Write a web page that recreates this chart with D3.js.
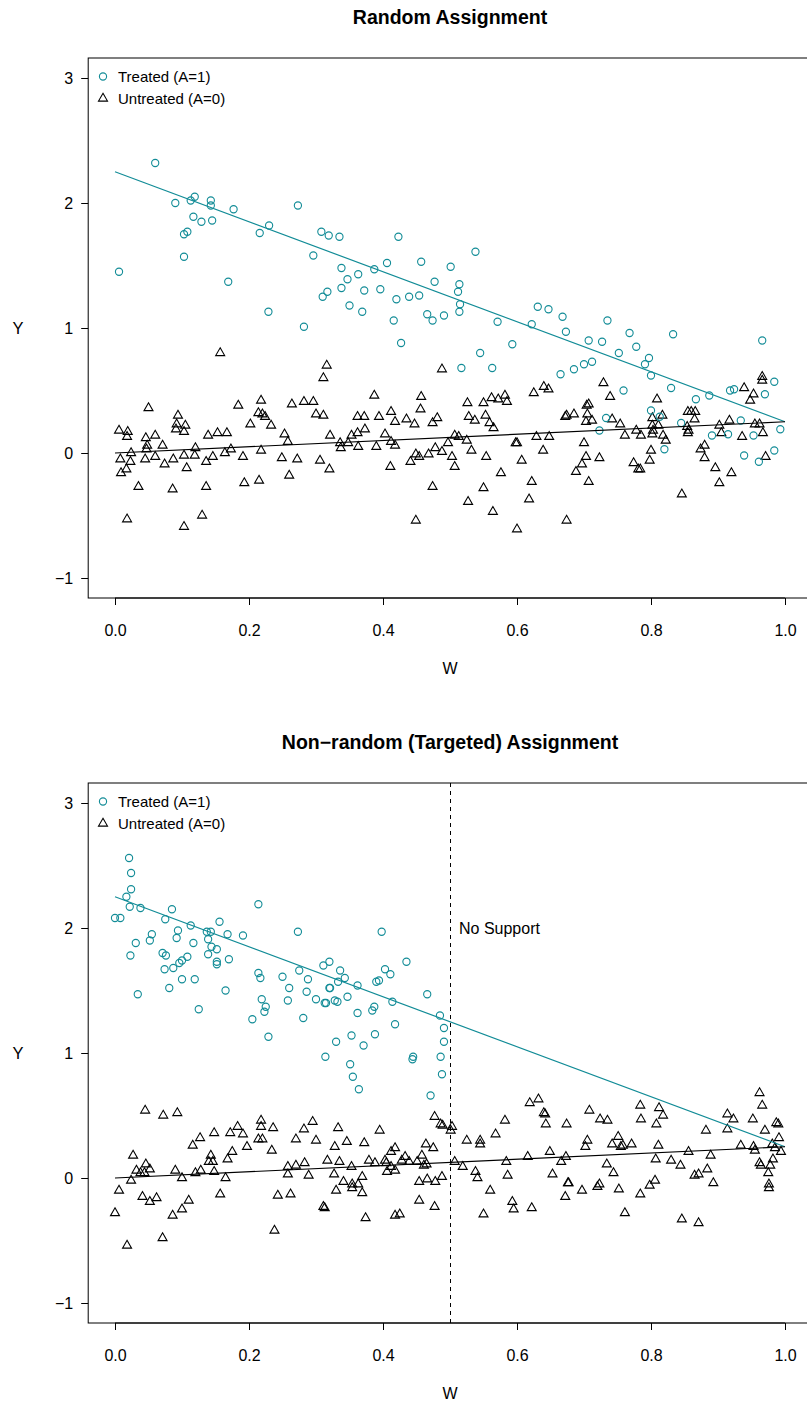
<!DOCTYPE html>
<html><head><meta charset="utf-8">
<script src="https://cdn.jsdelivr.net/npm/d3@7"></script>
<style>body{margin:0;background:#fff}svg{display:block;font-family:"Liberation Sans",Arial,sans-serif}</style>
</head><body><svg id="c" width="807" height="1403"></svg>
<script>
const xTicks=[0,0.2,0.4,0.6,0.8,1.0];
const yTicks=[-1,0,1,2,3];
const titles=["Random Assignment","Non\u2212random (Targeted) Assignment"];
const legendLabels=["Treated (A=1)","Untreated (A=0)"];
const treatedLine=[[0,2.25],[1,0.25]];
const untreatedLine=[[0,0],[1,0.25]];
const supportCut=0.5;

const randTreated=[[0.06,2.32],[0.09,2.00],[0.113,2.02],[0.119,2.05],[0.143,2.02],[0.143,1.98],[0.177,1.95],[0.117,1.89],[0.129,1.85],[0.145,1.86],[0.103,1.75],[0.108,1.77],[0.103,1.57],[0.006,1.45],[0.169,1.37],[0.216,1.76],[0.23,1.82],[0.273,1.98],[0.308,1.77],[0.319,1.74],[0.296,1.58],[0.317,1.29],[0.31,1.25],[0.229,1.13],[0.282,1.01],
[0.335,1.73],[0.423,1.73],[0.538,1.61],[0.338,1.48],[0.347,1.39],[0.363,1.43],[0.387,1.47],[0.406,1.52],[0.457,1.53],[0.501,1.49],[0.338,1.32],[0.372,1.30],[0.396,1.31],[0.42,1.23],[0.439,1.25],[0.454,1.26],[0.477,1.37],[0.514,1.35],[0.512,1.29],[0.515,1.19],[0.514,1.13],[0.35,1.18],[0.369,1.13],[0.416,1.06],[0.427,0.88],[0.466,1.11],[0.474,1.06],[0.491,1.10],[0.571,1.05],[0.631,1.17],[0.647,1.15],[0.668,1.09],[0.622,1.03],[0.673,0.97],[0.593,0.87],[0.545,0.80],[0.517,0.68],[0.563,0.68],[0.665,0.63],
[0.735,1.06],[0.707,0.90],[0.727,0.89],[0.768,0.96],[0.833,0.95],[0.778,0.85],[0.752,0.80],[0.797,0.76],[0.791,0.71],[0.80,0.62],[0.685,0.67],[0.70,0.71],[0.712,0.73],[0.966,0.90],[0.984,0.57],
[0.759,0.50],[0.83,0.52],[0.867,0.43],[0.887,0.46],[0.918,0.50],[0.924,0.51],[0.970,0.47],[0.80,0.34],[0.733,0.28],[0.723,0.18],[0.813,0.29],[0.845,0.24],[0.82,0.03],[0.891,0.14],[0.915,0.15],[0.934,0.26],[0.953,0.14],[0.993,0.19],[0.939,-0.02],[0.961,-0.07],[0.984,0.02]];

const randUntreated=[[0.311,0.60],[0.05,0.36],[0.094,0.30],[0.092,0.23],[0.105,0.22],[0.091,0.19],[0.103,0.17],[0.006,0.18],[0.019,0.17],[0.018,0.13],[0.046,0.12],[0.06,0.14],[0.048,0.06],[0.047,0.03],[0.071,0.06],[0.024,0.00],[0.008,-0.05],[0.023,-0.07],[0.017,-0.13],[0.009,-0.16],[0.045,-0.05],[0.06,-0.03],[0.074,-0.09],[0.087,-0.05],[0.103,-0.02],[0.107,-0.12],[0.12,0.04],[0.119,-0.02],[0.139,0.14],[0.153,0.16],[0.167,0.16],[0.146,-0.03],[0.136,-0.07],[0.164,0.00],[0.173,0.03],[0.184,0.38],[0.191,-0.03],[0.202,0.23],[0.218,0.42],[0.214,0.32],[0.22,0.31],[0.224,0.29],[0.233,0.22],[0.218,0.02],[0.253,0.15],[0.258,0.09],[0.249,-0.04],[0.272,-0.05],[0.26,-0.18],[0.193,-0.24],[0.215,-0.22],[0.264,0.39],[0.282,0.41],[0.296,0.41],[0.30,0.31],[0.311,0.30],[0.306,-0.06],[0.32,-0.13],[0.321,0.14],[0.035,-0.27],[0.086,-0.29],[0.136,-0.27],[0.018,-0.53],[0.103,-0.59],[0.13,-0.50],[0.157,0.80],[0.316,0.70],
[0.387,0.46],[0.457,0.45],[0.456,0.35],[0.412,0.33],[0.362,0.29],[0.372,0.29],[0.394,0.29],[0.418,0.25],[0.435,0.27],[0.447,0.23],[0.481,0.28],[0.474,0.24],[0.373,0.19],[0.362,0.16],[0.353,0.14],[0.403,0.15],[0.336,0.08],[0.337,0.04],[0.348,0.08],[0.363,0.05],[0.39,0.05],[0.412,0.09],[0.418,0.06],[0.411,-0.11],[0.449,-0.01],[0.454,-0.03],[0.441,-0.07],[0.468,-0.01],[0.478,0.04],[0.488,0.01],[0.497,0.08],[0.507,0.14],[0.513,0.13],[0.525,0.10],[0.532,0.02],[0.503,-0.03],[0.507,-0.11],[0.554,-0.03],[0.576,-0.16],[0.607,-0.06],[0.598,0.08],[0.60,0.08],[0.629,0.13],[0.648,0.13],[0.639,0.02],[0.672,0.29],[0.526,0.40],[0.55,0.40],[0.562,0.44],[0.572,0.43],[0.582,0.46],[0.585,0.41],[0.625,0.48],[0.64,0.53],[0.647,0.51],[0.528,0.29],[0.537,0.26],[0.553,0.30],[0.559,0.24],[0.565,0.20],[0.474,-0.27],[0.55,-0.28],[0.622,-0.23],[0.618,-0.37],[0.527,-0.39],[0.564,-0.47],[0.449,-0.54],[0.60,-0.61],[0.674,-0.54],[0.488,0.67],
[0.729,0.56],[0.739,0.45],[0.704,0.38],[0.707,0.39],[0.705,0.31],[0.685,0.31],[0.674,0.30],[0.703,0.25],[0.712,0.26],[0.742,0.27],[0.754,0.23],[0.761,0.14],[0.778,0.18],[0.785,0.14],[0.809,0.43],[0.802,0.28],[0.817,0.30],[0.802,0.22],[0.811,0.22],[0.803,0.18],[0.802,0.15],[0.818,0.14],[0.822,0.10],[0.80,0.02],[0.798,-0.06],[0.70,0.08],[0.703,-0.03],[0.697,-0.09],[0.688,-0.15],[0.723,-0.04],[0.707,-0.23],[0.774,-0.08],[0.781,-0.13],[0.784,-0.13],[0.846,-0.33],[0.855,0.33],[0.86,0.33],[0.866,0.33],[0.865,0.27],[0.854,0.21],[0.856,0.18],[0.855,0.16],[0.874,0.03],[0.88,0.06],[0.88,-0.04],[0.896,-0.12],[0.902,-0.24],[0.92,-0.16],[0.902,0.22],[0.905,0.16],[0.917,0.26],[0.936,0.13],[0.955,0.23],[0.962,0.23],[0.967,0.16],[0.971,-0.03],[0.939,0.52],[0.953,0.47],[0.948,0.42],[0.966,0.61],[0.966,0.58]];

const targTreated=[[0.021,2.56],[0.024,2.44],[0.024,2.31],[0.017,2.25],[0.022,2.17],[0.038,2.16],[0.0,2.08],[0.008,2.08],[0.085,2.15],[0.075,2.07],[0.214,2.19],[0.113,2.02],[0.156,2.05],[0.137,1.97],[0.143,1.97],[0.168,1.95],[0.191,1.94],[0.139,1.91],[0.094,1.98],[0.092,1.92],[0.055,1.95],[0.052,1.90],[0.031,1.88],[0.117,1.88],[0.144,1.85],[0.152,1.83],[0.139,1.79],[0.071,1.80],[0.076,1.78],[0.023,1.78],[0.108,1.77],[0.10,1.74],[0.096,1.72],[0.087,1.68],[0.074,1.67],[0.152,1.73],[0.152,1.71],[0.17,1.75],[0.10,1.59],[0.119,1.59],[0.081,1.52],[0.034,1.47],[0.165,1.50],[0.125,1.35],[0.273,1.97],[0.214,1.64],[0.217,1.60],[0.25,1.61],[0.275,1.66],[0.288,1.59],[0.26,1.52],[0.286,1.49],[0.258,1.42],[0.30,1.43],[0.313,1.40],[0.311,1.70],[0.32,1.73],[0.32,1.52],[0.219,1.43],[0.225,1.37],[0.223,1.33],[0.205,1.27],[0.281,1.28],[0.229,1.13],[0.314,0.97],
[0.336,1.66],[0.343,1.60],[0.333,1.57],[0.321,1.52],[0.362,1.54],[0.328,1.42],[0.332,1.41],[0.347,1.45],[0.315,1.40],[0.362,1.32],[0.398,1.97],[0.435,1.73],[0.403,1.67],[0.411,1.63],[0.39,1.57],[0.394,1.58],[0.414,1.41],[0.387,1.37],[0.384,1.34],[0.466,1.47],[0.485,1.30],[0.491,1.20],[0.491,1.09],[0.418,1.23],[0.388,1.15],[0.353,1.14],[0.33,1.09],[0.371,1.06],[0.445,0.97],[0.444,0.95],[0.486,0.97],[0.351,0.91],[0.355,0.81],[0.364,0.71],[0.488,0.83],[0.471,0.66]];

const targUntreated=[[0.045,0.54],[0.072,0.50],[0.093,0.52],[0.027,0.18],[0.032,0.06],[0.046,0.11],[0.052,0.07],[0.038,0.04],[0.044,0.04],[0.024,-0.02],[0.006,-0.10],[0.0,-0.28],[0.018,-0.54],[0.041,-0.15],[0.052,-0.19],[0.062,-0.16],[0.071,-0.48],[0.086,-0.30],[0.10,-0.25],[0.11,-0.18],[0.09,0.06],[0.10,0.00],[0.12,0.04],[0.128,0.06],[0.116,0.26],[0.127,0.32],[0.148,0.36],[0.143,0.18],[0.14,0.13],[0.146,0.13],[0.148,0.05],[0.168,0.15],[0.175,0.21],[0.165,0.00],[0.157,-0.13],[0.172,0.36],[0.183,0.41],[0.191,0.35],[0.197,0.25],[0.218,0.46],[0.218,0.41],[0.236,0.40],[0.214,0.31],[0.22,0.31],[0.234,0.22],[0.243,-0.14],[0.262,-0.13],[0.238,-0.42],[0.258,0.09],[0.258,0.03],[0.27,0.10],[0.283,0.12],[0.289,0.02],[0.27,0.31],[0.282,0.39],[0.295,0.45],[0.30,0.30],[0.317,0.14],[0.311,-0.23],
[0.333,0.40],[0.395,0.38],[0.328,0.25],[0.346,0.29],[0.372,0.28],[0.335,0.13],[0.353,0.09],[0.379,0.14],[0.388,0.12],[0.327,0.03],[0.341,-0.03],[0.354,-0.05],[0.354,-0.08],[0.363,-0.05],[0.369,0.01],[0.33,-0.10],[0.369,-0.12],[0.374,-0.32],[0.313,-0.24],[0.403,0.14],[0.405,0.12],[0.412,0.21],[0.418,0.24],[0.412,0.09],[0.406,0.05],[0.418,0.06],[0.428,0.14],[0.433,0.17],[0.439,0.13],[0.451,0.13],[0.458,0.18],[0.461,0.10],[0.465,0.11],[0.464,0.27],[0.475,0.24],[0.454,-0.03],[0.466,-0.01],[0.478,-0.03],[0.488,0.01],[0.454,-0.18],[0.477,-0.23],[0.418,-0.30],[0.425,-0.29],[0.477,0.49],[0.486,0.43],[0.489,0.42],[0.503,0.41],[0.501,0.38],[0.507,0.13],[0.519,0.09],[0.525,0.30],[0.545,0.30],[0.545,0.27],[0.538,0.05],[0.541,0.00],[0.56,-0.10],[0.55,-0.29],[0.568,0.35],[0.582,0.46],[0.584,0.13],[0.586,0.02],[0.593,-0.19],[0.595,-0.25],[0.622,-0.24],[0.616,0.17],[0.619,0.60],[0.632,0.63],[0.64,0.52],[0.642,0.51],[0.643,0.43],[0.649,0.21],[0.653,0.03],[0.666,0.13],[0.673,0.17],[0.674,0.43],[0.672,-0.15],[0.676,-0.04],
[0.708,0.54],[0.724,0.47],[0.735,0.46],[0.784,0.58],[0.785,0.47],[0.812,0.56],[0.818,0.50],[0.808,0.43],[0.705,0.30],[0.702,0.25],[0.751,0.33],[0.742,0.27],[0.755,0.25],[0.758,0.26],[0.771,0.27],[0.811,0.26],[0.734,0.11],[0.744,0.04],[0.807,0.15],[0.83,0.14],[0.844,0.10],[0.856,0.21],[0.889,0.18],[0.884,0.07],[0.865,0.02],[0.871,0.03],[0.893,-0.04],[0.882,0.38],[0.914,0.51],[0.923,0.47],[0.914,0.39],[0.934,0.26],[0.952,0.47],[0.962,0.68],[0.966,0.58],[0.97,0.38],[0.987,0.44],[0.99,0.43],[0.991,0.32],[0.981,0.27],[0.985,0.24],[0.994,0.21],[0.953,0.25],[0.955,0.22],[0.982,0.15],[0.978,0.10],[0.962,0.12],[0.964,0.10],[0.975,0.04],[0.976,-0.05],[0.976,-0.08],[0.677,-0.04],[0.697,-0.10],[0.72,-0.07],[0.723,-0.05],[0.752,-0.09],[0.784,-0.13],[0.798,-0.06],[0.806,-0.02],[0.761,-0.28],[0.846,-0.33],[0.871,-0.36]];

const TEAL="#128c97";
const svg=d3.select("#c");
const x=d3.scaleLinear().domain([-0.04,1.04]).range([88.2,811.8]);
const triPath=(r)=>`M0,${-r}L${r*0.866},${r*0.5}L${-r*0.866},${r*0.5}Z`;
const CR=3.6, TR=5.2;

function panel(top,title,treated,untreated,showCut){
  const g=svg.append("g");
  const y=d3.scaleLinear().domain([-1.16,3.16]).range([top+540,top]);
  g.append("text").attr("x",450).attr("y",top-34).attr("text-anchor","middle")
    .attr("font-weight","bold").attr("font-size",19.5).text(title);
  g.append("rect").attr("x",x.range()[0]).attr("y",top).attr("width",x.range()[1]-x.range()[0])
    .attr("height",540).attr("fill","none").attr("stroke","#000").attr("stroke-width",1);
  const xa=g.append("g").attr("transform",`translate(0,${top+540})`)
    .call(d3.axisBottom(x).tickValues(xTicks).tickFormat(d3.format(".1f")).tickSize(7).tickPadding(20));
  const ya=g.append("g").attr("transform",`translate(${x.range()[0]},0)`)
    .call(d3.axisLeft(y).tickValues(yTicks).tickFormat(d=>d<0?"\u2212"+Math.abs(d):d).tickSize(7).tickPadding(8));
  [xa,ya].forEach(a=>{a.select(".domain").remove();a.selectAll("text").attr("font-size",16).attr("font-family","Liberation Sans, Arial, sans-serif").attr("fill","#000");a.selectAll("line").attr("stroke","#000");});
  ya.selectAll("text").attr("dy","0.35em");
  g.append("path").attr("d",`M${x(0)},${top+540}H${x(1)}`).attr("stroke","#000");
  g.append("text").attr("x",450).attr("y",top+616).attr("text-anchor","middle").attr("font-size",16).text("W");
  g.append("text").attr("x",18).attr("y",y(1)+6).attr("text-anchor","middle").attr("font-size",16.5).text("Y");
  const line=d3.line().x(d=>x(d[0])).y(d=>y(d[1]));
  g.selectAll(".ut").data(untreated).join("path").attr("transform",d=>`translate(${x(d[0])},${y(d[1])})`)
    .attr("d",triPath(TR)).attr("fill","none").attr("stroke","#000").attr("stroke-width",1.1);
  g.selectAll(".tr").data(treated).join("circle").attr("cx",d=>x(d[0])).attr("cy",d=>y(d[1])).attr("r",CR)
    .attr("fill","none").attr("stroke",TEAL).attr("stroke-width",1.1);
  g.append("path").attr("d",line(treatedLine)).attr("stroke",TEAL).attr("stroke-width",1.2).attr("fill","none");
  g.append("path").attr("d",line(untreatedLine)).attr("stroke","#000").attr("stroke-width",1.2).attr("fill","none");
  if(showCut){
    const cx=Math.round(x(supportCut))+0.5;
    g.append("path").attr("d",`M${cx},${top}V${top+540}`).attr("stroke","#000").attr("stroke-dasharray","4,4");
    g.append("text").attr("x",x(supportCut)+9).attr("y",y(2)+5.5).attr("font-size",16).text("No Support");
  }
  const lg=g.append("g");
  lg.append("circle").attr("cx",103).attr("cy",y(3)-1.5).attr("r",CR).attr("fill","none").attr("stroke",TEAL).attr("stroke-width",1.1);
  lg.append("path").attr("transform",`translate(103,${y(3)+20.5})`).attr("d",triPath(TR)).attr("fill","none").attr("stroke","#000").attr("stroke-width",1.1);
  lg.selectAll("text").data(legendLabels).join("text").attr("x",118).attr("y",(d,i)=>y(3)+4+i*22)
    .attr("font-size",15).text(d=>d);
}
panel(58,titles[0],randTreated,randUntreated,false);
panel(783,titles[1],targTreated,targUntreated,true);
</script></body></html>
